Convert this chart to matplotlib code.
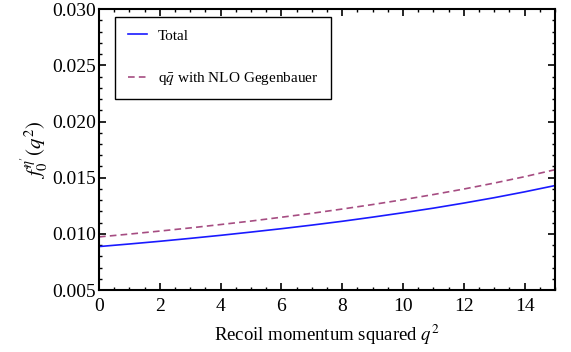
import matplotlib
matplotlib.use('Agg')
import matplotlib.pyplot as plt
from matplotlib.ticker import MultipleLocator

plt.rcParams['font.family'] = ['Liberation Serif', 'DejaVu Serif']
plt.rcParams['mathtext.fontset'] = 'stix'

# data
q2 = [0, 1, 2, 3, 4, 5, 6, 7, 8, 9, 10, 11, 12, 13, 14, 15]
total = [0.00887, 0.00910, 0.00934, 0.00960, 0.00987, 0.01016, 0.01046, 0.01078,
         0.01112, 0.01149, 0.01188, 0.01229, 0.01274, 0.01322, 0.01374, 0.01430]
qqbar_nlo = [0.00973, 0.00998, 0.01025, 0.01053, 0.01083, 0.01114, 0.01148, 0.01183,
             0.01221, 0.01261, 0.01304, 0.01350, 0.01399, 0.01452, 0.01509, 0.01571]

fig = plt.figure(figsize=(5.71, 3.52), dpi=100)
ax = fig.add_axes([0.1734, 0.176, 0.7986, 0.798])

ax.plot(q2, total, color='#1a1aff', lw=1.2, label='Total')
ax.plot(q2, qqbar_nlo, color='#a64d82', lw=1.2, ls=(0, (4, 2.5)),
        label=r'q$\bar{q}$ with NLO Gegenbauer')

ax.set_xlim(0, 15)
ax.set_ylim(0.005, 0.030)
ax.xaxis.set_major_locator(MultipleLocator(2))
ax.xaxis.set_minor_locator(MultipleLocator(0.5))
ax.yaxis.set_major_locator(MultipleLocator(0.005))
ax.yaxis.set_minor_locator(MultipleLocator(0.001))
ax.yaxis.set_major_formatter(plt.FormatStrFormatter('%.3f'))

ax.tick_params(which='both', direction='in', top=True, right=True, labelsize=14)
ax.tick_params(which='major', length=5, width=1.2)
ax.tick_params(axis='x', which='major', pad=6)
ax.tick_params(axis='y', which='major', pad=2)
ax.tick_params(which='minor', length=2.5, width=1)
for s in ax.spines.values():
    s.set_linewidth(1.5)

ax.set_xlabel(r'Recoil momentum squared $q^2$', fontsize=13.5, labelpad=5)
ax.set_ylabel(r"$f_0^{\eta'}(q^2)$", fontsize=15, labelpad=2)

leg = ax.legend(loc='upper left', bbox_to_anchor=(0.019, 1.0), fontsize=11,
                handlelength=1.3, handletextpad=0.7, labelspacing=1.8, borderpad=0.8,
                fancybox=False, framealpha=1, edgecolor='black')
leg.get_frame().set_linewidth(1.0)

fig.savefig('out.png', dpi=100)
